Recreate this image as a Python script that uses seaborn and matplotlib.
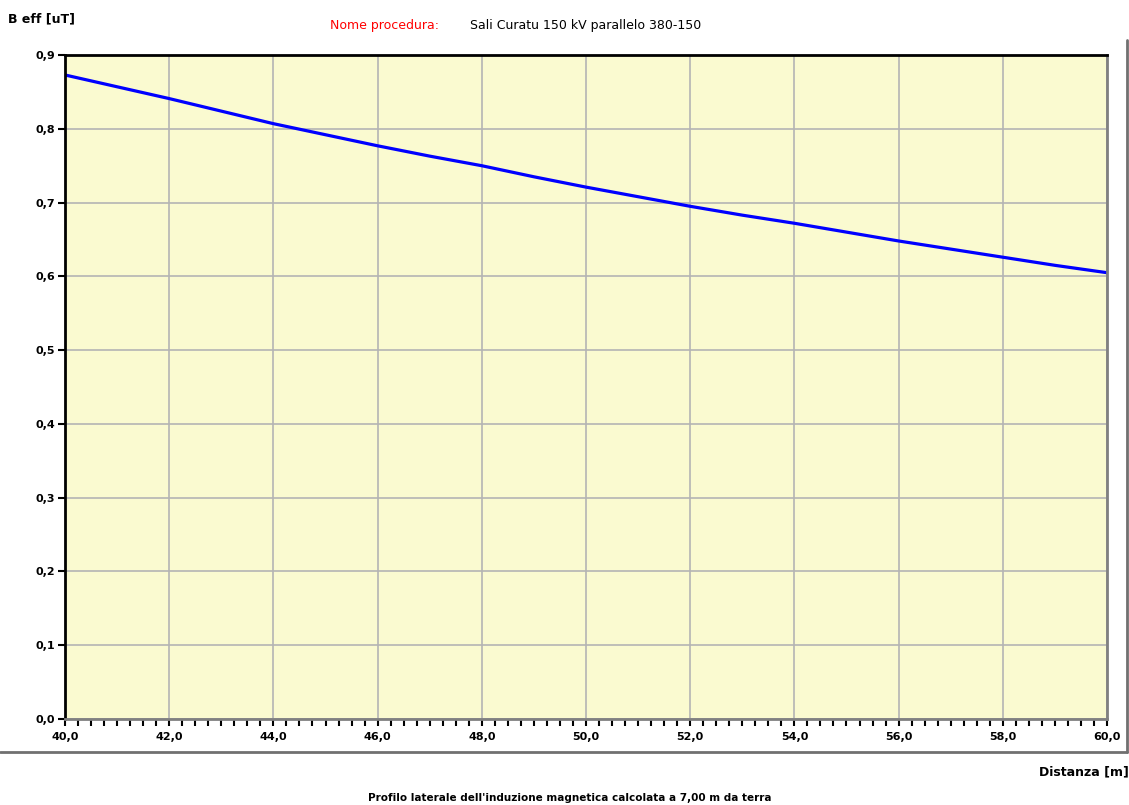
import numpy as np
import pandas as pd
import seaborn as sns
import matplotlib.pyplot as plt
from matplotlib.lines import Line2D
from matplotlib.ticker import MultipleLocator, FuncFormatter

# data
distanza = [40, 41, 42, 43, 44, 45, 46, 47, 48, 49, 50,
            51, 52, 53, 54, 55, 56, 57, 58, 59, 60]
b_eff = [0.873, 0.857, 0.841, 0.824, 0.807, 0.792, 0.777, 0.763, 0.750, 0.735, 0.721,
         0.708, 0.695, 0.683, 0.672, 0.660, 0.648, 0.637, 0.626, 0.615, 0.605]
x_ticks = [40, 42, 44, 46, 48, 50, 52, 54, 56, 58, 60]
y_ticks = [0.0, 0.1, 0.2, 0.3, 0.4, 0.5, 0.6, 0.7, 0.8, 0.9]

df = pd.DataFrame({'Distanza': distanza, 'B': b_eff})

sns.set_style('white')
plt.rcParams['font.family'] = ['DejaVu Sans']
plt.rcParams['text.color'] = 'black'
plt.rcParams['xtick.color'] = 'black'
plt.rcParams['ytick.color'] = 'black'

fig = plt.figure(figsize=(11.29, 8.05), dpi=100)
ax = fig.add_axes([0.0576, 0.1068, 0.9229, 0.8248])
ax.set_facecolor('#FAFAD0')

sns.lineplot(data=df, x='Distanza', y='B', ax=ax, color='#0000FF', linewidth=2.3)

ax.set_xlim(40, 60)
ax.set_ylim(0, 0.9)
ax.set_xticks(x_ticks)
ax.set_yticks(y_ticks)
ax.xaxis.set_minor_locator(MultipleLocator(0.25))
comma = FuncFormatter(lambda v, p: f'{v:.1f}'.replace('.', ','))
ax.xaxis.set_major_formatter(comma)
ax.yaxis.set_major_formatter(comma)
ax.grid(True, which='major', color='#B4B4B4', linewidth=1.2)
ax.set_axisbelow(True)
ax.set_xlabel('')
ax.set_ylabel('')

ax.tick_params(axis='y', which='major', left=True, direction='out', length=5, width=1.5,
               color='black', labelcolor='black', labelsize=8, pad=2)
ax.tick_params(axis='x', which='both', bottom=True, direction='out', length=5, width=1.5,
               color='black', labelcolor='black', labelsize=8, pad=4)
for lbl in ax.get_xticklabels() + ax.get_yticklabels():
    lbl.set_fontweight('bold')

ax.spines['left'].set_color('black')
ax.spines['top'].set_color('black')
ax.spines['right'].set_color('#808080')
ax.spines['bottom'].set_color('#808080')
for s in ax.spines.values():
    s.set_linewidth(2)

# outer panel frame
fig.add_artist(Line2D([1127 / 1129, 1127 / 1129], [1 - 40 / 805, 1 - 752 / 805],
                      color='#707070', linewidth=2))
fig.add_artist(Line2D([0, 1127 / 1129], [1 - 752 / 805, 1 - 752 / 805],
                      color='#707070', linewidth=2))

# texts
fig.text(8 / 1129, 1 - 19 / 805, 'B eff [uT]', fontsize=9, fontweight='bold',
         va='center', ha='left')
fig.text(330 / 1129, 1 - 25 / 805, 'Nome procedura:', fontsize=9, color='red',
         va='center', ha='left')
fig.text(470 / 1129, 1 - 25 / 805, 'Sali Curatu 150 kV parallelo 380-150', fontsize=9,
         va='center', ha='left')
fig.text(1129 / 1129, 1 - 772 / 805, 'Distanza [m]', fontsize=9, fontweight='bold',
         va='center', ha='right')
fig.text(570 / 1129, 1 - 798 / 805,
         "Profilo laterale dell'induzione magnetica calcolata a 7,00 m da terra",
         fontsize=7.5, fontweight='bold', va='center', ha='center')

fig.savefig('out.png', dpi=100)
